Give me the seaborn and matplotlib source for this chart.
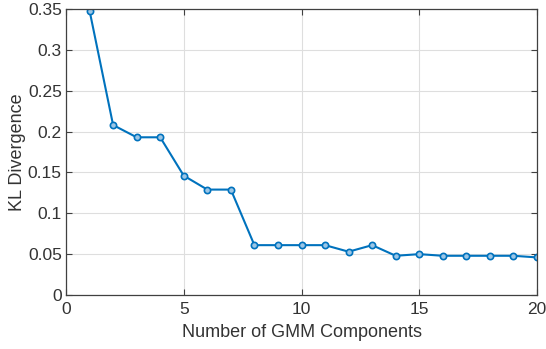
import matplotlib
matplotlib.use("Agg")
import matplotlib.pyplot as plt
import seaborn as sns
import pandas as pd

components = list(range(1, 21))
kl_divergence = [0.348, 0.208, 0.193, 0.193, 0.146, 0.129, 0.129, 0.061, 0.061, 0.061,
                 0.061, 0.053, 0.061, 0.048, 0.050, 0.048, 0.048, 0.048, 0.048, 0.046]
x_ticks = [0, 5, 10, 15, 20]
y_ticks = [0, 0.05, 0.1, 0.15, 0.2, 0.25, 0.3, 0.35]
y_tick_labels = ["0", "0.05", "0.1", "0.15", "0.2", "0.25", "0.3", "0.35"]

df = pd.DataFrame({"components": components, "kl": kl_divergence})

sns.set_theme(style="whitegrid")
plt.rcParams["font.family"] = ["Liberation Sans", "DejaVu Sans"]

fig = plt.figure(figsize=(5.46, 3.49), dpi=100)
ax = fig.add_axes([66 / 546, 1 - 295 / 349, (537 - 66) / 546, (295 - 9) / 349])

sns.lineplot(data=df, x="components", y="kl", ax=ax, color="#0072BD", linewidth=1.5,
             marker="o", markersize=4.5, markerfacecolor="#9cc6e6",
             markeredgecolor="#0072BD", markeredgewidth=1.2)

ax.set_xlim(0, 20)
ax.set_ylim(0, 0.35)
ax.set_xticks(x_ticks)
ax.set_yticks(y_ticks)
ax.set_yticklabels(y_tick_labels)
ax.set_xlabel("Number of GMM Components", fontsize=13, color="#333333", labelpad=5)
ax.set_ylabel("KL Divergence", fontsize=13, color="#333333", labelpad=1)

ax.set_facecolor("white")
ax.grid(True, color="#dedede", linewidth=0.8)
for side in ["left", "right", "top", "bottom"]:
    ax.spines[side].set_visible(True)
    ax.spines[side].set_color("#404040")
    ax.spines[side].set_linewidth(0.9)
ax.tick_params(axis="both", direction="in", length=4, width=0.8, color="#404040",
               labelsize=12.5, labelcolor="#333333", top=True, right=True,
               left=True, bottom=True)
ax.tick_params(axis="x", pad=5)
ax.tick_params(axis="y", pad=3)

fig.savefig("out.png", dpi=100, facecolor="white")
